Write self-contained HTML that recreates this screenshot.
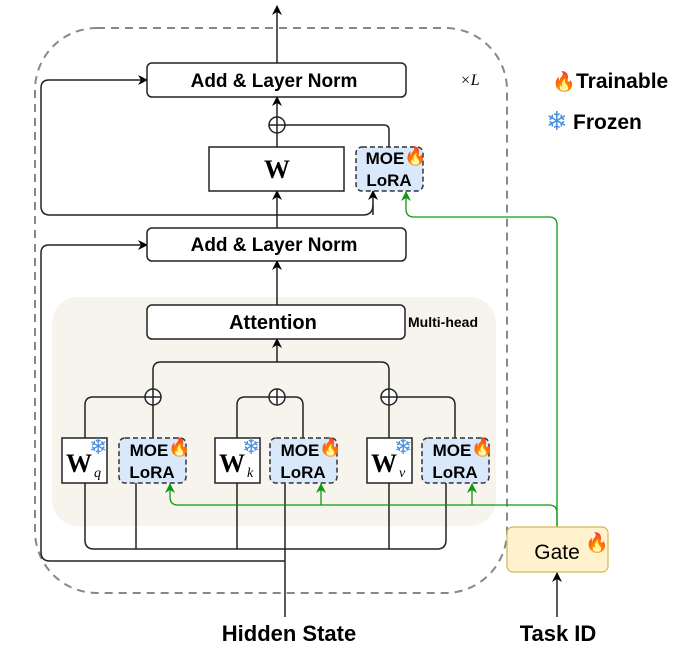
<!DOCTYPE html>
<html><head><meta charset="utf-8"><style>
body{margin:0;background:#fff;}
svg{display:block;font-family:"Liberation Sans",sans-serif;}
.b{font-weight:bold;}
</style></head><body>
<svg width="686" height="660" viewBox="0 0 686 660" xmlns="http://www.w3.org/2000/svg">
<defs>
<marker id="a" markerWidth="10" markerHeight="10" refX="9" refY="5" orient="auto" markerUnits="userSpaceOnUse"><path d="M0,0 L10,5 L0,10 L3,5z" fill="#000"/></marker>
<marker id="g" markerWidth="10" markerHeight="10" refX="9" refY="5" orient="auto" markerUnits="userSpaceOnUse"><path d="M0,0 L10,5 L0,10 L3,5z" fill="#109910"/></marker>
</defs>
<rect x="52" y="297" width="444" height="229" rx="26" fill="#f6f4ec"/>
<rect x="35" y="28" width="472" height="565" rx="62" fill="none" stroke="#888" stroke-width="2" stroke-dasharray="8,6"/>
<g stroke="#222" stroke-width="1.5" fill="none">
<line x1="277" y1="63" x2="277" y2="6" marker-end="url(#a)"/>
<line x1="277" y1="117" x2="277" y2="97" marker-end="url(#a)"/>
<line x1="277" y1="147" x2="277" y2="133"/>
<path d="M285,125 H384 Q389,125 389,130 V147"/>
<circle cx="277" cy="125" r="8" fill="#fff"/>
<path d="M269,125 H285 M277,117 V133"/>
<line x1="277" y1="228" x2="277" y2="191" marker-end="url(#a)"/>
<path d="M373,205 Q373,215 363,215 H50 Q41,215 41,206 V88 Q41,80 49,80 H147" marker-end="url(#a)"/>
<path d="M373,215 V191" marker-end="url(#a)"/>
<line x1="277" y1="305" x2="277" y2="261" marker-end="url(#a)"/>
<path d="M285,561 H50 Q41,561 41,552 V253 Q41,245 49,245 H147" marker-end="url(#a)"/>
<line x1="277" y1="362" x2="277" y2="339" marker-end="url(#a)"/>
<path d="M153,389 V370 Q153,362 161,362 H381 Q389,362 389,370 V389"/>
<path d="M85,438 V405 Q85,397 93,397 H145 M161,397 H153 V438"/>
<path d="M237,438 V405 Q237,397 245,397 H295 Q303,397 303,405 V438"/>
<path d="M389,438 V397 M397,397 H447 Q455,397 455,405 V438"/>
<circle cx="153" cy="397" r="8" fill="#fff"/><path d="M145,397 H161 M153,389 V405"/>
<circle cx="277" cy="397" r="8" fill="#fff"/><path d="M269,397 H285 M277,389 V405"/>
<circle cx="389" cy="397" r="8" fill="#fff"/><path d="M381,397 H397 M389,389 V405"/>
<path d="M85,483 V540 Q85,549 94,549 H437 Q446,549 446,540 V483"/>
<path d="M136,483 V549 M237,483 V549 M389,483 V549"/>
<path d="M285,617 V483"/>
<line x1="557" y1="617" x2="557" y2="573" marker-end="url(#a)"/>
</g>
<g stroke="#109910" stroke-width="1.3" fill="none">
<path d="M557,527 V225 Q557,217 549,217 H414 Q406,217 406,209 V192" marker-end="url(#g)"/>
<path d="M557,527 V513 Q557,505 549,505 H178 Q170,505 170,497 V484" marker-end="url(#g)"/>
<path d="M321,505 V484" marker-end="url(#g)"/>
<path d="M472,505 V484" marker-end="url(#g)"/>
</g>
<g stroke="#222" stroke-width="1.5">
<rect x="147" y="63" width="259" height="34" rx="5" fill="#fff"/>
<rect x="209" y="147" width="135" height="44" fill="#fff"/>
<rect x="147" y="228" width="259" height="33" rx="5" fill="#fff"/>
<rect x="147" y="305" width="258" height="34" rx="5" fill="#fff"/>
<rect x="62" y="438" width="45" height="45" fill="#fff"/>
<rect x="215" y="438" width="45" height="45" fill="#fff"/>
<rect x="367" y="438" width="45" height="45" fill="#fff"/>
</g>
<g stroke="#333" stroke-width="1.5" stroke-dasharray="5,3" fill="#dae8fc">
<rect x="356" y="147" width="67" height="44" rx="6"/>
<rect x="119" y="438" width="67" height="45" rx="6"/>
<rect x="270" y="438" width="67" height="45" rx="6"/>
<rect x="422" y="438" width="67" height="45" rx="6"/>
</g>
<rect x="507" y="527" width="101" height="45" rx="6" fill="#fff2cc" stroke="#d6b656" stroke-width="1.2"/>
<g class="b" text-anchor="middle" fill="#000">
<text x="274" y="87" font-size="19">Add &amp; Layer Norm</text>
<text x="274" y="251" font-size="19">Add &amp; Layer Norm</text>
<text x="273" y="329" font-size="20">Attention</text>
</g>
<text x="277" y="178" font-family="Liberation Serif,serif" font-weight="bold" font-size="26" text-anchor="middle">W</text>
<g font-family="Liberation Serif,serif">
<text x="66" y="472" font-weight="bold" font-size="26">W</text><text x="94" y="477" font-style="italic" font-size="14">q</text>
<text x="219" y="472" font-weight="bold" font-size="26">W</text><text x="247" y="477" font-style="italic" font-size="14">k</text>
<text x="371" y="472" font-weight="bold" font-size="26">W</text><text x="399" y="477" font-style="italic" font-size="14">v</text>
<text x="460" y="85" font-style="italic" font-size="16">×L</text>
</g>
<g class="b" font-size="17" text-anchor="middle">
<text x="385" y="164">MOE</text><text x="389" y="186">LoRA</text>
<text x="149" y="456">MOE</text><text x="152" y="478">LoRA</text>
<text x="300" y="456">MOE</text><text x="303" y="478">LoRA</text>
<text x="452" y="456">MOE</text><text x="455" y="478">LoRA</text>
</g>
<text x="408" y="327" class="b" font-size="14">Multi-head</text>
<text x="557" y="559" font-size="21" text-anchor="middle">Gate</text>
<text x="289" y="641" class="b" font-size="22" text-anchor="middle">Hidden State</text>
<text x="558" y="641" class="b" font-size="22" text-anchor="middle">Task ID</text>
<text x="576" y="88" class="b" font-size="21">Trainable</text>
<text x="573" y="129" class="b" font-size="21">Frozen</text>
<g font-family="DejaVu Sans,sans-serif">
<text x="552" y="88" fill="#f4511e" font-size="19">🔥</text>
<text x="546" y="130" fill="#4a90e2" font-size="26">❄</text>
<text x="404" y="162" fill="#f4511e" font-size="18">🔥</text>
<text x="168" y="453" fill="#f4511e" font-size="18">🔥</text>
<text x="319" y="453" fill="#f4511e" font-size="18">🔥</text>
<text x="471" y="453" fill="#f4511e" font-size="18">🔥</text>
<text x="585" y="549" fill="#f4511e" font-size="19">🔥</text>
<text x="89" y="454" fill="#4a90e2" font-size="22">❄</text>
<text x="242" y="454" fill="#4a90e2" font-size="22">❄</text>
<text x="394" y="454" fill="#4a90e2" font-size="22">❄</text>
</g>
</svg>
</body></html>
